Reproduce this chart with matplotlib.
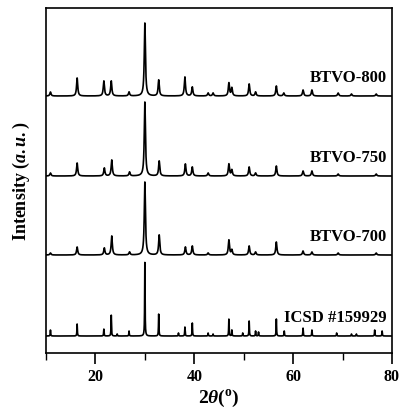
import numpy as np
import matplotlib
matplotlib.use("Agg")
import matplotlib.pyplot as plt
from matplotlib.ticker import MultipleLocator

plt.rcParams['font.family'] = ['Liberation Serif', 'DejaVu Serif']
plt.rcParams['font.weight'] = 'bold'
plt.rcParams['mathtext.fontset'] = 'custom'
plt.rcParams['mathtext.rm'] = 'Liberation Serif:bold'
plt.rcParams['mathtext.it'] = 'Liberation Serif:italic:bold'
plt.rcParams['mathtext.bf'] = 'Liberation Serif:bold'

# peak positions (2theta) and heights
pos_800 = [10.9, 16.3, 21.7, 23.2, 26.8, 30.0, 32.8, 38.1, 39.6, 42.8, 43.8, 47.0, 47.6,
           51.1, 52.4, 56.6, 58.1, 62.0, 63.8, 69.1, 71.8, 76.8]
hgt_800 = [4, 18, 15, 15, 4, 73, 16, 19, 9, 3, 3, 13, 8,
           12, 4, 10, 3, 6, 6, 3, 2, 2]

pos_750 = [10.9, 16.3, 21.8, 23.3, 26.9, 30.0, 32.9, 38.2, 39.6, 42.8, 47.0, 47.6,
           51.1, 52.4, 56.6, 62.0, 63.8, 69.1, 76.8]
hgt_750 = [3, 13, 8, 16, 4, 74, 15, 12, 9, 3, 12, 6,
           9, 3, 10, 5, 5, 2, 2]

pos_700 = [10.9, 16.3, 21.8, 23.3, 26.9, 30.0, 32.9, 38.2, 39.6, 42.8, 47.0, 47.6,
           51.1, 52.4, 56.6, 62.0, 63.8, 69.1, 76.8]
hgt_700 = [2, 8, 7, 19, 3, 73, 20, 8, 9, 2, 15, 5,
           9, 3, 13, 4, 3, 2, 2]

pos_icsd = [10.9, 16.3, 21.7, 23.2, 24.4, 26.8, 30.0, 32.8, 36.8, 38.1, 39.6, 42.8, 43.8,
            47.0, 47.6, 49.8, 51.1, 52.4, 53.0, 56.6, 58.2, 62.0, 63.8, 68.8, 71.8,
            72.8, 76.5, 78.0]
hgt_icsd = [6, 12, 7, 21, 2, 5, 74, 22, 3, 9, 13, 3, 2,
            17, 6, 3, 15, 5, 4, 17, 5, 8, 6, 3, 2,
            2, 6, 5]

labels = ['BTVO-800', 'BTVO-750', 'BTVO-700', 'ICSD #159929']
offsets = [240, 160, 81, 0]

x = np.linspace(10, 80, 5000)


def pattern(pos, hgt, w):
    y = np.zeros_like(x)
    for p, h in zip(pos, hgt):
        y += h / (1 + ((x - p) / w) ** 2)
    return y


series = [pattern(pos_800, hgt_800, 0.14),
          pattern(pos_750, hgt_750, 0.14),
          pattern(pos_700, hgt_700, 0.14),
          pattern(pos_icsd, hgt_icsd, 0.05)]

fig = plt.figure(figsize=(4.01, 4.14), dpi=100)
ax = fig.add_axes([46 / 401, 1 - 354 / 414, 346 / 401, 345 / 414])

for y, off, lab in zip(series, offsets, labels):
    ax.plot(x, y + off, color='black', lw=1.2)
    ax.text(79.0, off + 19, lab, ha='right', va='center', fontsize=12, fontweight='bold')

ax.set_xlim(10, 80)
ax.set_ylim(-17, 328)
ax.set_yticks([])
ax.xaxis.set_major_locator(MultipleLocator(20))
ax.xaxis.set_minor_locator(MultipleLocator(10))
ax.tick_params(axis='x', which='major', direction='out', length=8, width=1.2, labelsize=11.5, pad=3)
ax.tick_params(axis='x', which='minor', direction='out', length=5, width=1.0)
for lbl in ax.get_xticklabels():
    lbl.set_fontweight('bold')
for s in ax.spines.values():
    s.set_linewidth(1.2)

ax.set_xlabel(r'2$\it{\theta}$($^{\rm o}$)', fontsize=14, fontweight='bold', labelpad=2)
ax.set_ylabel(r'Intensity ($\it{a.u.}$)', fontsize=13, fontweight='bold', labelpad=10)

fig.savefig('out.png', dpi=100)
